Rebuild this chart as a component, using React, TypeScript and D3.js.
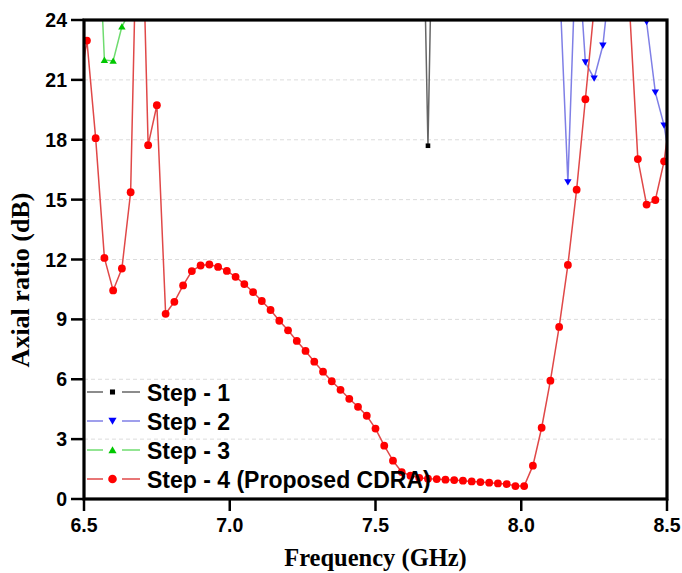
import React from "react";
import * as d3 from "d3";

const xTicks = [6.5, 7.0, 7.5, 8.0, 8.5];
const yTicks = [0, 3, 6, 9, 12, 15, 18, 21, 24];

const step4Freq = [6.48, 6.51, 6.54, 6.57, 6.60, 6.63, 6.66, 6.69, 6.72, 6.75, 6.78, 6.81, 6.84, 6.87, 6.90, 6.93, 6.96, 6.99, 7.02, 7.05, 7.08, 7.11, 7.14, 7.17, 7.20, 7.23, 7.26, 7.29, 7.32, 7.35, 7.38, 7.41, 7.44, 7.47, 7.50, 7.53, 7.56, 7.59, 7.62, 7.65, 7.68, 7.71, 7.74, 7.77, 7.80, 7.83, 7.86, 7.89, 7.92, 7.95, 7.98, 8.01, 8.04, 8.07, 8.10, 8.13, 8.16, 8.19, 8.22, 8.25, 8.28, 8.31, 8.34, 8.37, 8.40, 8.43, 8.46, 8.49, 8.52];
const step4AR = [20.2, 22.97, 18.08, 12.08, 10.45, 11.55, 15.37, 35, 17.73, 19.73, 9.28, 9.88, 10.7, 11.42, 11.7, 11.75, 11.63, 11.43, 11.13, 10.77, 10.37, 9.92, 9.47, 8.93, 8.45, 7.92, 7.42, 6.88, 6.38, 5.9, 5.47, 5.02, 4.62, 4.17, 3.53, 2.67, 1.92, 1.35, 1.17, 1.06, 1.02, 1.0, 0.97, 0.95, 0.92, 0.88, 0.85, 0.82, 0.78, 0.75, 0.65, 0.65, 1.67, 3.57, 5.93, 8.62, 11.73, 15.5, 20.03, 24.6, 30, 34, 32, 25, 17.03, 14.75, 14.98, 16.92, 20.2];

const step1Freq = [7.62, 7.65, 7.68, 7.71, 7.74];
const step1AR = [45, 40, 17.7, 41, 45];

const step2Freq = [8.10, 8.13, 8.16, 8.19, 8.22, 8.25, 8.28, 8.31, 8.34, 8.37, 8.40, 8.43, 8.46, 8.49, 8.52];
const step2AR = [30, 26.4, 15.87, 28.5, 21.88, 21.07, 22.72, 26.8, 30, 30, 27, 23.9, 20.37, 18.72, 16];

const step3Freq = [6.51, 6.54, 6.57, 6.60, 6.63, 6.66, 6.69];
const step3AR = [30, 32, 22.0, 21.95, 23.67, 24.5, 28];

const seriesNames = ["Step - 1", "Step - 2", "Step - 3", "Step - 4 (Proposed CDRA)"];
const lineColors = ["#666666", "#7f7fe6", "#6fdc6f", "#e04848"];
const markerColors = ["#000000", "#0000ff", "#00c800", "#ff0000"];
const markerShapes = ["square", "triangleDown", "triangle", "circle"];

const L = 84, R = 667, T = 20, B = 499;

function Marker({ shape, x, y, color, s = 1 }: any) {
  if (shape === "circle") return <circle cx={x} cy={y} r={3.9 * s} fill={color} />;
  if (shape === "square") return <rect x={x - 2.3 * s} y={y - 2.3 * s} width={4.6 * s} height={4.6 * s} fill={color} />;
  if (shape === "triangleDown") {
    const h = 3.7 * s;
    return <path d={`M${x - h},${y - h * 0.8}L${x + h},${y - h * 0.8}L${x},${y + h * 0.9}Z`} fill={color} />;
  }
  const h = 3.7 * s;
  return <path d={`M${x - h},${y + h * 0.8}L${x + h},${y + h * 0.8}L${x},${y - h * 0.9}Z`} fill={color} />;
}

export default function App() {
  const x = d3.scaleLinear().domain([6.5, 8.5]).range([L, R]);
  const y = d3.scaleLinear().domain([0, 24]).range([B, T]);
  const line = d3.line<[number, number]>().x((d) => x(d[0])).y((d) => y(d[1]));

  const series = [
    [step1Freq, step1AR],
    [step2Freq, step2AR],
    [step3Freq, step3AR],
    [step4Freq, step4AR],
  ].map(([f, v]) => f.map((fi, i) => [fi, v[i]] as [number, number]));

  const tickFont = { fontFamily: "'Liberation Sans', Arial, sans-serif", fontWeight: 700, fontSize: 19.5 };
  const legendRows = [392, 421, 450, 479];

  return (
    <svg width={682} height={573} style={{ position: "absolute", left: 0, top: 0, background: "#fff" }}>
      <defs>
        <clipPath id="plot">
          <rect x={L} y={T} width={R - L} height={B - T} />
        </clipPath>
      </defs>
      <rect x={0} y={0} width={682} height={573} fill="#fff" />
      {yTicks.filter((t) => t > 0 && t < 24).map((t) => (
        <line key={t} x1={L} x2={R} y1={y(t)} y2={y(t)} stroke="#dcdcdc" strokeWidth={1} strokeDasharray="4,3" />
      ))}
      <g clipPath="url(#plot)">
        {series.map((pts, si) => (
          <g key={si}>
            <path d={line(pts) || ""} fill="none" stroke={lineColors[si]} strokeWidth={1.5} />
            {pts.map((p, i) => (
              <Marker key={i} shape={markerShapes[si]} x={x(p[0])} y={y(p[1])} color={markerColors[si]} />
            ))}
          </g>
        ))}
      </g>
      <rect x={L} y={T} width={R - L} height={B - T} fill="none" stroke="#000" strokeWidth={3.2} />
      {yTicks.map((t) => (
        <g key={t}>
          <line x1={L - 13} x2={L} y1={y(t)} y2={y(t)} stroke="#000" strokeWidth={2.5} />
          <text x={L - 17} y={y(t)} textAnchor="end" dominantBaseline="central" style={tickFont}>
            {t}
          </text>
        </g>
      ))}
      {xTicks.map((t) => (
        <g key={t}>
          <line x1={x(t)} x2={x(t)} y1={B} y2={B + 12} stroke="#000" strokeWidth={2.5} />
          <text x={x(t)} y={532} textAnchor="middle" style={tickFont}>
            {t.toFixed(1)}
          </text>
        </g>
      ))}
      <text x={(L + R) / 2} y={566} textAnchor="middle" style={{ fontFamily: "'Liberation Serif', 'Times New Roman', serif", fontWeight: 700, fontSize: 24.5 }}>
        Frequency (GHz)
      </text>
      <text transform="translate(29,280) rotate(-90)" textAnchor="middle" style={{ fontFamily: "'Liberation Serif', 'Times New Roman', serif", fontWeight: 700, fontSize: 26 }}>
        Axial ratio (dB)
      </text>
      {seriesNames.map((name, i) => (
        <g key={name}>
          <line x1={87} x2={103} y1={legendRows[i]} y2={legendRows[i]} stroke={lineColors[i]} strokeWidth={1.5} />
          <line x1={122} x2={140} y1={legendRows[i]} y2={legendRows[i]} stroke={lineColors[i]} strokeWidth={1.5} />
          <Marker shape={markerShapes[i]} x={112.5} y={legendRows[i]} color={markerColors[i]} s={1.1} />
          <text x={147} y={legendRows[i] + 1} dominantBaseline="central" style={{ fontFamily: "'Liberation Sans', Arial, sans-serif", fontWeight: 700, fontSize: 23 }}>
            {name}
          </text>
        </g>
      ))}
    </svg>
  );
}
